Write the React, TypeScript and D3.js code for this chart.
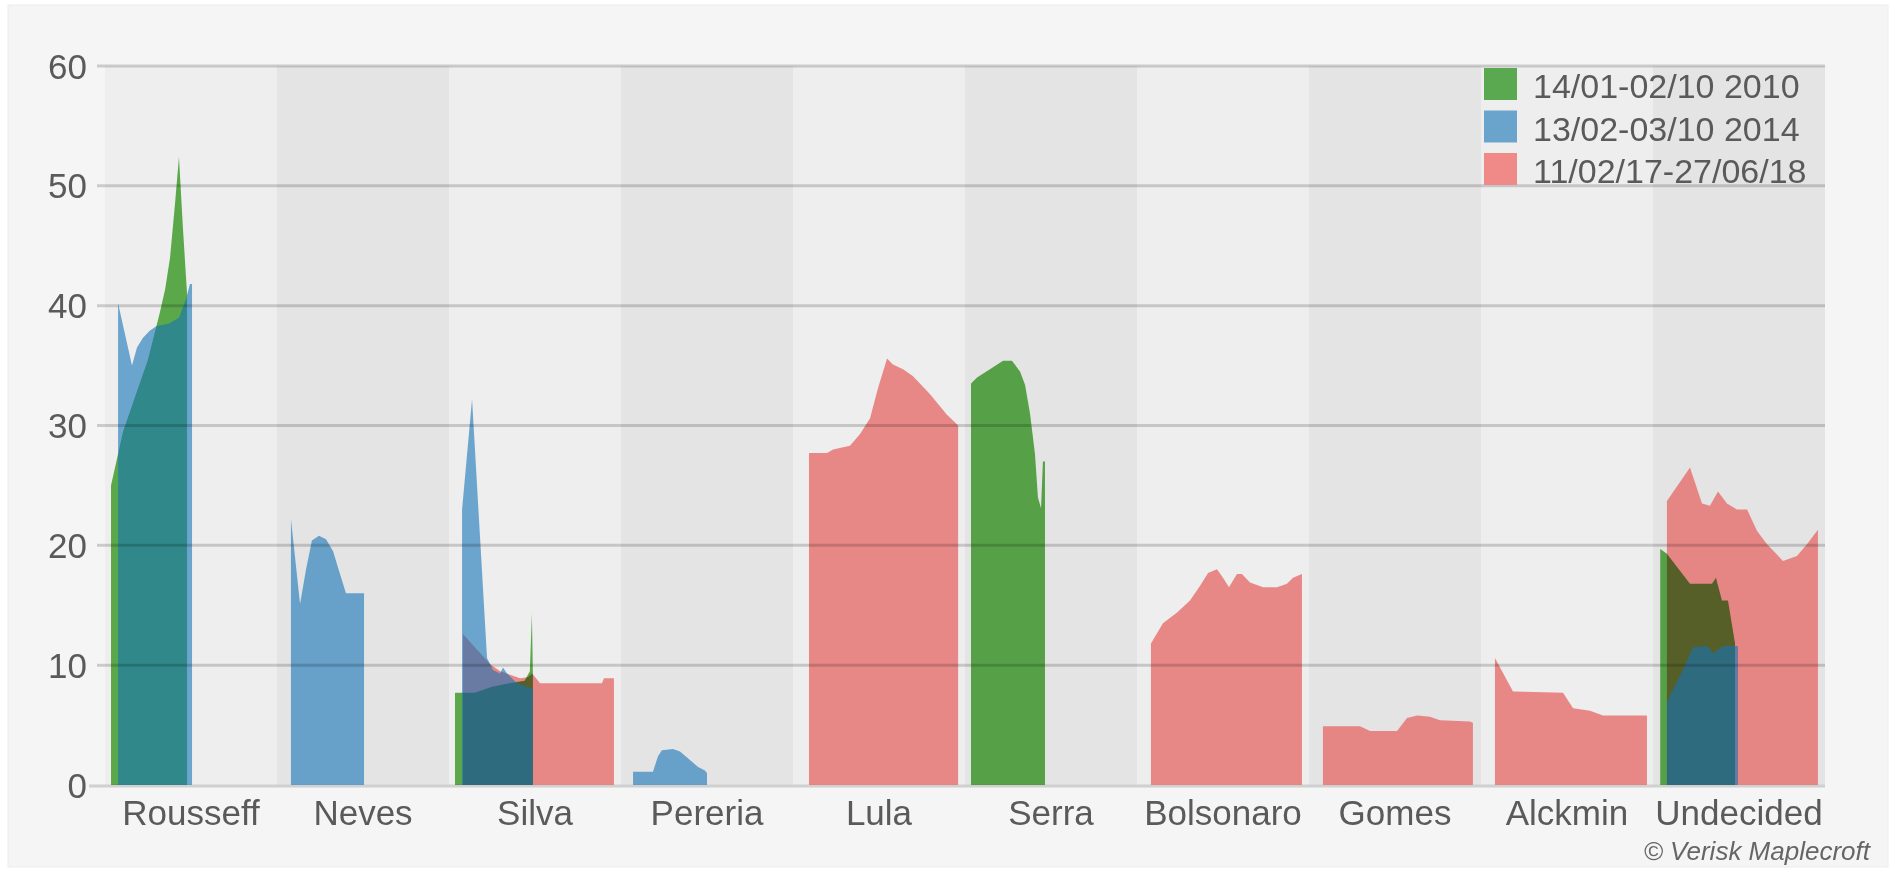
import React from "react";
import * as d3 from "d3";

// ---------- data ----------
const CANDIDATES = ["Rousseff", "Neves", "Silva", "Pereria", "Lula", "Serra", "Bolsonaro", "Gomes", "Alckmin", "Undecided"];
const Y_TICKS = [0, 10, 20, 30, 40, 50, 60];
const SERIES_LABELS = ["14/01-02/10 2010", "13/02-03/10 2014", "11/02/17-27/06/18"];
const SERIES_SWATCH = ["#5aa84f", "#6aa4cd", "#f08a88"];
const COPYRIGHT = "© Verisk Maplecroft";

// points: [campaign progress within the candidate's band (0-100), vote intention %]
// 2010 campaign
const ROUSSEFF_2010: [number, number][] = [[3.5, 25], [10.5, 29.5], [25, 35.5], [32, 39.5], [35, 41.4], [37.8, 44], [40.7, 48.5], [43, 52.4], [45.3, 46.5], [47.7, 41]];
const SILVA_2010: [number, number][] = [[3.5, 7.7], [15, 7.7], [25, 8.2], [35, 8.5], [44, 8.7], [47, 9.5], [48.2, 14.3], [48.8, 9]];
const SERRA_2010: [number, number][] = [[3.5, 33.5], [7, 34], [14.5, 34.7], [22.1, 35.4], [27.3, 35.4], [32, 34.5], [34.9, 33.4], [37.8, 31], [40.7, 27.6], [42.4, 24], [44.2, 23.1], [45.3, 27], [46.5, 27]];
const UNDECIDED_2010: [number, number][] = [[4.2, 19.7], [8.1, 19.3], [21.5, 16.8], [34.3, 16.8], [36.6, 17.3], [40.1, 15.4], [43.6, 15.4], [47.7, 11.8]];

// 2014 campaign
const ROUSSEFF_2014: [number, number][] = [[7.6, 40.2], [15.7, 35], [18.6, 36.5], [22, 37.3], [26, 37.9], [30, 38.3], [37, 38.5], [43, 39], [47, 40.5], [49.4, 41.8], [50.6, 41.8]];
const NEVES_2014: [number, number][] = [[8.1, 22.2], [13.4, 15.1], [16.9, 18], [20.3, 20.4], [24.4, 20.8], [28.5, 20.5], [32.6, 19.5], [36, 17.9], [40.1, 16], [50.6, 16]];
const SILVA_2014: [number, number][] = [[7.6, 23], [13.4, 32.2], [22.1, 10.6], [25.6, 9.6], [29.7, 9.3], [31.4, 9.8], [33.7, 9.3], [39.5, 8.5], [45.3, 8.2], [48.8, 8.0]];
const PERERIA_2014: [number, number][] = [[7, 1.1], [18.6, 1.1], [21.5, 2.4], [23.8, 2.9], [30.2, 3.0], [34.3, 2.8], [38.4, 2.3], [44.8, 1.5], [48.8, 1.2], [50, 1.0]];
const UNDECIDED_2014: [number, number][] = [[8.1, 6.8], [9.9, 7.5], [17.4, 9.6], [23.3, 11.5], [31.4, 11.6], [34.9, 11.0], [40.7, 11.6], [49.4, 11.6]];

// 2017-18 campaign
const SILVA_2018: [number, number][] = [[8.1, 12.6], [23.8, 10.1], [29.7, 9.5], [33.7, 9.3], [41.3, 8.9], [45.9, 9.0], [48.3, 9.3], [51.2, 8.8], [52.9, 8.5], [88.9, 8.5], [90.1, 8.9], [95.9, 8.9]];
const LULA_2018: [number, number][] = [[9.3, 27.7], [19.8, 27.7], [23.3, 28.0], [33.1, 28.3], [39, 29.3], [44.8, 30.6], [49.4, 33.1], [54.7, 35.6], [58.1, 35.1], [64, 34.7], [69.8, 34.1], [79.7, 32.6], [89.5, 30.9], [95.3, 30.1], [96, 30]];
const BOLSONARO_2018: [number, number][] = [[8.1, 11.8], [15.1, 13.5], [23.3, 14.4], [30.8, 15.4], [36.6, 16.6], [41.3, 17.7], [46.5, 18.0], [50, 17.3], [53.5, 16.5], [58.1, 17.6], [61, 17.6], [65.7, 16.9], [73.3, 16.5], [81.4, 16.5], [87.2, 16.8], [90.7, 17.3], [95.9, 17.6]];
const GOMES_2018: [number, number][] = [[8.1, 4.9], [29.7, 4.9], [35.5, 4.5], [51.2, 4.5], [57, 5.6], [62.8, 5.8], [70.3, 5.7], [76.2, 5.4], [93.6, 5.3], [95.3, 5.2]];
const ALCKMIN_2018: [number, number][] = [[8.1, 10.6], [18.6, 7.8], [47.7, 7.7], [53.5, 6.4], [63.4, 6.2], [70.9, 5.8], [96.5, 5.8]];
const UNDECIDED_2018: [number, number][] = [[8.1, 23.7], [21.5, 26.5], [28.5, 23.5], [33.1, 23.3], [37.8, 24.5], [43, 23.5], [48.8, 23], [54.7, 23], [60.5, 21.2], [66.3, 20.1], [75.6, 18.7], [83.7, 19.1], [89.5, 20.1], [95.9, 21.3]];

const SERIES_2010 = [
  { candidate: "Rousseff", points: ROUSSEFF_2010 },
  { candidate: "Silva", points: SILVA_2010 },
  { candidate: "Serra", points: SERRA_2010 },
  { candidate: "Undecided", points: UNDECIDED_2010 },
];
const SERIES_2014 = [
  { candidate: "Rousseff", points: ROUSSEFF_2014 },
  { candidate: "Neves", points: NEVES_2014 },
  { candidate: "Silva", points: SILVA_2014 },
  { candidate: "Pereria", points: PERERIA_2014 },
  { candidate: "Undecided", points: UNDECIDED_2014 },
];
const SERIES_2018 = [
  { candidate: "Silva", points: SILVA_2018 },
  { candidate: "Lula", points: LULA_2018 },
  { candidate: "Bolsonaro", points: BOLSONARO_2018 },
  { candidate: "Gomes", points: GOMES_2018 },
  { candidate: "Alckmin", points: ALCKMIN_2018 },
  { candidate: "Undecided", points: UNDECIDED_2018 },
];

// ---------- layout ----------
const W = 1894;
const H = 873;
const FONT = "'Liberation Sans', Arial, Helvetica, sans-serif";

export default function App() {
  const x = d3.scaleBand<string>().domain(CANDIDATES).range([105, 1825]).padding(0);
  const bw = x.bandwidth();
  const t = d3.scaleLinear().domain([0, 100]).range([0, bw]);
  const y = d3.scaleLinear().domain([0, 60]).range([785, 66]);

  const makeArea = (cand: string) =>
    d3
      .area<[number, number]>()
      .x((d) => (x(cand) as number) + t(d[0]))
      .y0(y(0))
      .y1((d) => y(d[1]))
      .curve(d3.curveLinear);

  return (
    <svg
      width={W}
      height={H}
      style={{ position: "absolute", left: 0, top: 0, fontFamily: FONT }}
    >
      <rect x={0} y={0} width={W} height={H} fill="#ffffff" />
      <rect x={8} y={5} width={1880} height={862} fill="#f5f5f5" stroke="#ececec" strokeWidth={1} />

      {/* alternating candidate bands */}
      {CANDIDATES.map((c, i) => (
        <rect
          key={c}
          x={x(c)}
          y={y(60)}
          width={bw}
          height={y(0) - y(60)}
          fill={i % 2 === 0 ? "#eeeeee" : "#e4e4e4"}
        />
      ))}

      {/* zero line */}
      <line x1={89} x2={1825} y1={y(0) + 1} y2={y(0) + 1} stroke="#d0d0d0" strokeWidth={3} />

      {/* 2017-18 */}
      {SERIES_2018.map((s) => (
        <path key={"r" + s.candidate} d={makeArea(s.candidate)(s.points) || ""} fill="rgb(230,110,108)" fillOpacity={0.8} />
      ))}
      {/* 2010 */}
      {SERIES_2010.map((s) => (
        <path
          key={"g" + s.candidate}
          d={makeArea(s.candidate)(s.points) || ""}
          fill="rgb(96,180,79)"
          style={{ mixBlendMode: "multiply" }}
        />
      ))}
      {/* 2014 */}
      {SERIES_2014.map((s) => (
        <path key={"b" + s.candidate} d={makeArea(s.candidate)(s.points) || ""} fill="rgb(20,115,183)" fillOpacity={0.6} />
      ))}

      {/* gridlines */}
      {Y_TICKS.filter((v) => v > 0).map((v) => (
        <line key={v} x1={97} x2={1825} y1={y(v)} y2={y(v)} stroke="#000" strokeOpacity={0.17} strokeWidth={3} />
      ))}

      {/* y tick labels */}
      {Y_TICKS.map((v) => (
        <text key={v} x={87} y={y(v)} dy="0.36em" textAnchor="end" fontSize={35} fill="#5a5a5a">
          {v}
        </text>
      ))}

      {/* x labels */}
      {CANDIDATES.map((c) => (
        <text key={c} x={(x(c) as number) + bw / 2} y={825} textAnchor="middle" fontSize={35} fill="#5a5a5a">
          {c}
        </text>
      ))}

      {/* legend */}
      {SERIES_LABELS.map((label, i) => (
        <g key={label} transform={`translate(1484, ${68 + i * 42.5})`}>
          <rect x={0} y={0} width={33} height={32} fill={SERIES_SWATCH[i]} />
          <text x={49} y={30} fontSize={34} fill="#5a5a5a">
            {label}
          </text>
        </g>
      ))}

      {/* credit */}
      <text x={1870} y={860} textAnchor="end" fontSize={26} fontStyle="italic" fill="#666">
        {COPYRIGHT}
      </text>
    </svg>
  );
}
